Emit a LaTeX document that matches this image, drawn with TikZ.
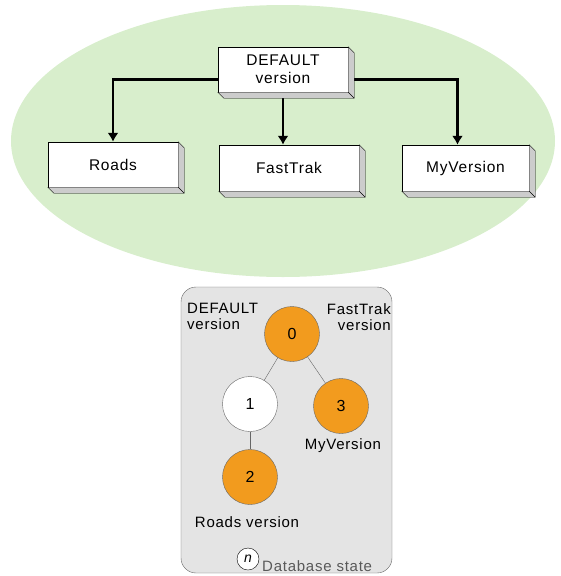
\documentclass[tikz,border=0pt]{standalone}
\usepackage{fontspec}
\setmainfont[LetterSpace=5]{Liberation Sans}
\usetikzlibrary{arrows.meta}
\definecolor{leafgreen}{RGB}{216,238,204}
\definecolor{stateorange}{RGB}{242,155,30}
\definecolor{panelgray}{RGB}{228,228,228}
\tikzset{
  verbox/.style={draw, fill=white, inner sep=0pt, minimum height=45, align=center, font=\fontsize{15.5}{18}\selectfont},
  state/.style={circle, draw=gray!80!black, fill=stateorange, minimum size=55, inner sep=0pt, font=\fontsize{16}{17}\selectfont},
  lbl/.style={font=\fontsize{15}{16}\selectfont, inner sep=0pt},
  >={Latex[width=11pt,length=9pt]}
}
% extruded right and bottom faces of a version box
\newcommand\boxsides[1]{%
  \draw[fill=gray!40] (#1.north east) -- ++(6,6) -- ([shift={(6,6)}]#1.south east)
    -- ([shift={(6,6)}]#1.south west) -- (#1.south west) -- (#1.south east) -- cycle;
  \draw (#1.south east) -- ++(6,6);}
\begin{document}
\begin{tikzpicture}[x=1pt, y=-1pt]
      \useasboundingbox (0,0) rectangle (561,576);

      % version tree
      \fill[leafgreen] (283,141) ellipse [x radius=272, y radius=136];

      \node[verbox, minimum width=130] (def) at (283,69.5) {DEFAULT\\version};
      \node[verbox, minimum width=130] (roads) at (113,164.5) {Roads};
      \node[verbox, minimum width=140, minimum height=46] (fast) at (289,168) {FastTrak};
      \node[verbox, minimum width=127, minimum height=46] (myv) at (465.5,168) {MyVersion};

      \draw[line width=2.6pt, ->] ([yshift=-10pt]def.west) -| (roads.north);
      \draw[line width=2.6pt, ->] (def.south) -- (def.south |- fast.north);
      \draw[line width=2.6pt, ->] ([yshift=-10pt]def.east) -| ([xshift=-8pt]myv.north);

      \boxsides{def}
      \boxsides{roads}
      \boxsides{fast}
      \boxsides{myv}

      % database states
      \draw[gray!80!black, fill=panelgray, rounded corners=15] (181,287) rectangle (392,573);

      \node[state] (s0) at (292,334) {0};
      \node[state, fill=white] (s1) at (250,404) {1};
      \node[state] (s3) at (341,406) {3};
      \node[state] (s2) at (250,477) {2};

      \draw[gray!80!black] (s0) -- (s1);
      \draw[gray!80!black] (s0) -- (s3);
      \draw[gray!80!black] (s1) -- (s2);

      \node[lbl, align=left, anchor=north west] (ldef) at (187,303) {DEFAULT\\version};
      \node[lbl, align=right, anchor=north east] (lfast) at (391,303) {FastTrak\\version};
      \node[lbl] (lmyv) at (343,446) {MyVersion};
      \node[lbl] (lroads) at (247,522) {Roads version};

      \node[circle, draw, fill=white, minimum size=22, inner sep=0pt, font=\fontsize{14}{15}\selectfont\itshape] (key) at (248,559) {n};
      \node[lbl, gray!70!black, anchor=west] (keytext) at (262,566) {Database state};
    \end{tikzpicture}
\end{document}
